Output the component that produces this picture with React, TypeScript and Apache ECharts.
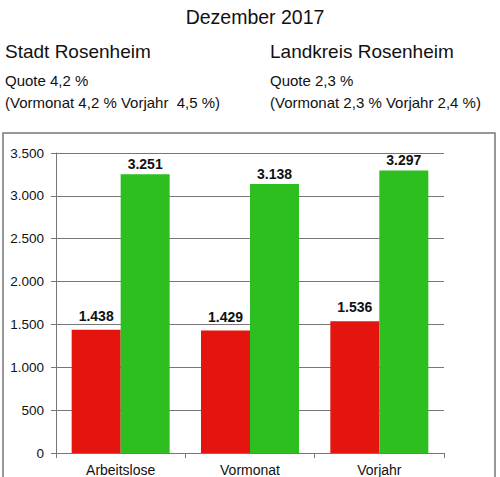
import React, { useEffect, useRef } from "react";
import * as echarts from "echarts";

const categories = ["Arbeitslose", "Vormonat", "Vorjahr"];
const stadtValues = [1438, 1429, 1536];
const landkreisValues = [3251, 3138, 3297];
const titleText = "Dezember 2017";
const leftHeading = "Stadt Rosenheim";
const leftQuote = "Quote 4,2 %";
const leftDetail = "(Vormonat 4,2 % Vorjahr  4,5 %)";
const rightHeading = "Landkreis Rosenheim";
const rightQuote = "Quote 2,3 %";
const rightDetail = "(Vormonat 2,3 % Vorjahr 2,4 %)";

const fmt = (v: number) => {
  const s = String(Math.round(v));
  return s.replace(/\B(?=(\d{3})+(?!\d))/g, ".");
};

const FONT = "'Liberation Sans', Arial, sans-serif";

export default function App() {
  const ref = useRef<HTMLDivElement>(null);
  useEffect(() => {
    if (!ref.current) return;
    const chart = echarts.init(ref.current, undefined, { renderer: "svg" });
    const textStyle = (size: number) => ({ fill: "#111", fontSize: size, fontFamily: FONT });
    const barLabel = (distance: number) => ({
      show: true,
      position: "top",
      distance,
      color: "#111",
      fontWeight: "bold",
      fontSize: 14,
      fontFamily: FONT,
      formatter: (p: any) => fmt(p.value),
    });
    chart.setOption({
      animation: false,
      backgroundColor: "#fff",
      textStyle: { fontFamily: FONT },
      graphic: [
        { type: "rect", shape: { x: 3, y: 133, width: 492, height: 360 }, style: { fill: "none", stroke: "#777", lineWidth: 1.5 }, z: -1 },
        { type: "text", x: 255, y: 17, style: { ...textStyle(19.5), text: titleText, textAlign: "center", textVerticalAlign: "middle" } },
        { type: "text", x: 5, y: 51, style: { ...textStyle(19), text: leftHeading, textVerticalAlign: "middle" } },
        { type: "text", x: 5, y: 80, style: { ...textStyle(15), text: leftQuote, textVerticalAlign: "middle" } },
        { type: "text", x: 5, y: 102, style: { ...textStyle(15), text: leftDetail, textVerticalAlign: "middle" } },
        { type: "text", x: 270, y: 51, style: { ...textStyle(19), text: rightHeading, textVerticalAlign: "middle" } },
        { type: "text", x: 270, y: 80, style: { ...textStyle(15), text: rightQuote, textVerticalAlign: "middle" } },
        { type: "text", x: 270, y: 102, style: { ...textStyle(15), text: rightDetail, textVerticalAlign: "middle" } },
      ],
      grid: { left: 56, right: 56, top: 153, bottom: 24, containLabel: false },
      xAxis: {
        type: "category",
        data: categories,
        axisLine: { lineStyle: { color: "#777", width: 1 } },
        axisTick: { show: true, length: 5, lineStyle: { color: "#777" } },
        axisLabel: { color: "#111", fontSize: 14, margin: 10, fontFamily: FONT },
      },
      yAxis: {
        type: "value",
        min: 0,
        max: 3500,
        interval: 500,
        axisLine: { show: true, lineStyle: { color: "#777", width: 1 } },
        axisTick: { show: true, length: 5, lineStyle: { color: "#777" } },
        axisLabel: { color: "#111", fontSize: 13.5, margin: 12, fontFamily: FONT, formatter: (v: number) => fmt(v) },
        splitLine: { show: true, lineStyle: { color: "#777", width: 1 } },
      },
      series: [
        {
          type: "bar",
          name: "Stadt",
          data: stadtValues,
          barWidth: 49,
          barGap: "0%",
          itemStyle: { color: "#e3150e" },
          label: barLabel(7),
        },
        {
          type: "bar",
          name: "Landkreis",
          data: landkreisValues,
          barWidth: 49,
          barGap: "0%",
          itemStyle: { color: "#2dbe20" },
          label: barLabel(3),
        },
      ],
    });
    return () => chart.dispose();
  }, []);
  return <div ref={ref} style={{ position: "fixed", left: 0, top: 0, width: 500, height: 477 }} />;
}
